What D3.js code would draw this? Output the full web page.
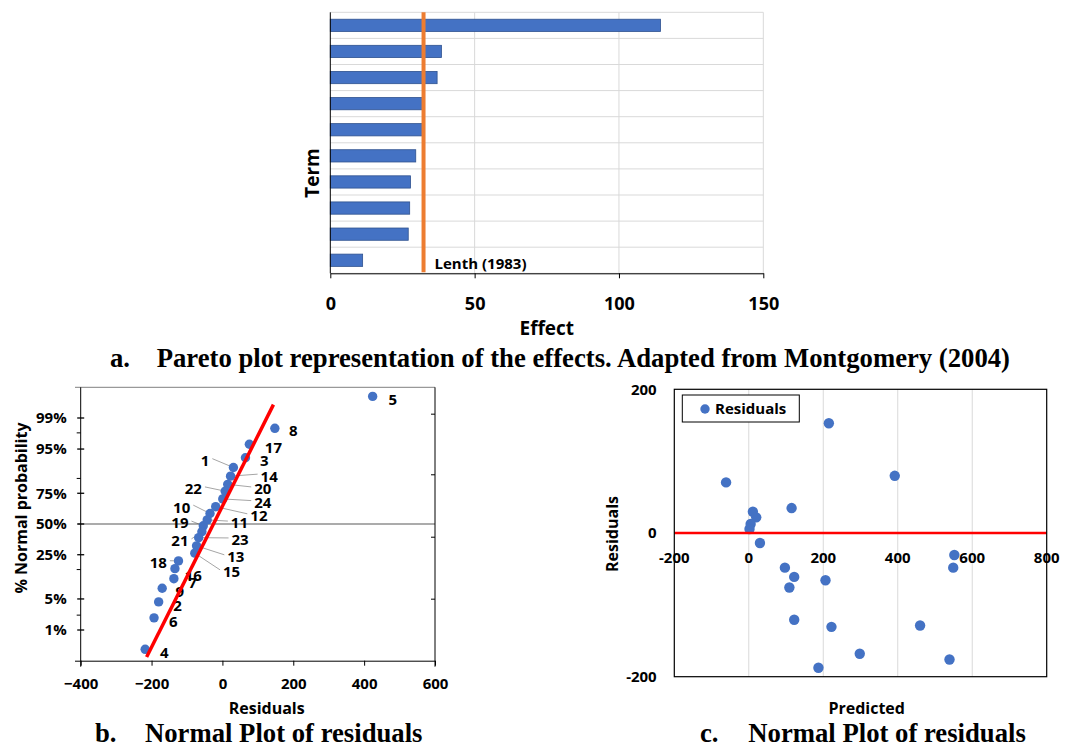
<!DOCTYPE html>
<html><head><meta charset="utf-8">
<script src="https://cdn.jsdelivr.net/npm/d3@7"></script>
<style>
body{margin:0;background:#fff}
svg{display:block}
text{font-family:"Open Sans",sans-serif;font-weight:bold;fill:#000}
.cap{font-family:"Liberation Serif","Times New Roman",serif;font-weight:bold}
</style>
</head><body>
<svg id="chart" width="1066" height="747"></svg>
<script>
// ---------------- Panel a: Pareto of effects ----------------
const terms = ["T1","T2","T3","T4","T5","T6","T7","T8","T9","T10"];
const effects = [114.4, 38.5, 37.0, 32.0, 32.1, 29.6, 27.8, 27.5, 27.0, 11.2];
const effectTicks = [0, 50, 100, 150];
const lenthValue = 32.3;
const lenthLabel = "Lenth (1983)";

// ---------------- Panel b: normal plot of residuals ----------------
const pointIds     = [5, 8, 17, 3, 1, 14, 20, 22, 24, 12, 10, 11, 19, 21, 23, 13, 15, 18, 16, 7, 9, 2, 6, 4];
const residualsB   = [424, 148, 76, 65, 31, 23, 15, 8, 1, -19, -35, -43, -54, -58, -67, -73, -78, -124, -134, -137, -170, -180, -193, -218];
const normalScores = [2.80, 2.10, 1.75, 1.455, 1.24, 1.05, 0.87, 0.72, 0.55, 0.38, 0.23, 0.09, -0.04, -0.17, -0.30, -0.48, -0.64, -0.81, -0.98, -1.20, -1.41, -1.71, -2.06, -2.75];
const labelResidual = [481, 200, 144, 118, -49, 132, 114, -82, 114, 103, -115, 48, -120, -120, 50, 38, 26, -181, -82, -84, -120, -127, -139, -164];
const labelScore    = [2.72, 2.05, 1.67, 1.39, 1.39, 1.05, 0.77, 0.77, 0.47, 0.18, 0.37, 0.02, 0.02, -0.37, -0.35, -0.72, -1.05, -0.85, -1.14, -1.29, -1.49, -1.78, -2.14, -2.82];
const hasLeader     = [0,0,0,0,1,1,1,1,1,1,1,1,1,1,1,1,1,1,0,0,0,0,0,0];
const percentTicks = [1, 5, 25, 50, 75, 95, 99];
const minorScoreTicks = [-2, -1, 1, 2];
const rightScoreTicks = [2.41, 1.08, -0.29, -1.65];
const residualTicks = [-400, -200, 0, 200, 400, 600];
const fitResidual = [-214, 144];
const fitScore = [-2.92, 2.62];

// ---------------- Panel c: residuals vs predicted ----------------
const predicted  = [215, 392, -61, 115, 11, 20, 5, 2, 30, 552, 549, 97, 122, 206, 109, 122, 222, 460, 298, 539, 187];
const residualsC = [152.8, 79.6, 70.4, 34.7, 29.6, 21.8, 12.5, 5.6, -13.9, -30.6, -48.2, -48.2, -61.1, -65.7, -75.9, -120.8, -130.6, -128.7, -168, -176, -187.5];
const predictedTicks = [-200, 0, 200, 400, 600, 800];
const residualTicksC = [-200, 0, 200];

const captions = [
  ["a.", "Pareto plot representation of the effects. Adapted from Montgomery (2004)"],
  ["b.", "Normal Plot of residuals"],
  ["c.", "Normal Plot of residuals"]
];

const BLUE = "#4472C4", BLUE_EDGE = "#2F528F", ORANGE = "#ED7D31", RED = "#FF0000", GRID = "#D9D9D9";

function probit(p){
  const a=[-3.969683028665376e+01,2.209460984245205e+02,-2.759285104469687e+02,1.383577518672690e+02,-3.066479806614716e+01,2.506628277459239e+00];
  const b=[-5.447609879822406e+01,1.615858368580409e+02,-1.556989798598866e+02,6.680131188771972e+01,-1.328068155288572e+01];
  const c=[-7.784894002430293e-03,-3.223964580411365e-01,-2.400758277161838e+00,-2.549732539343734e+00,4.374664141464968e+00,2.938163982698783e+00];
  const d=[7.784695709041462e-03,3.224671290700398e-01,2.445134137142996e+00,3.754408661907416e+00];
  const pl=0.02425, ph=1-pl; let q,r;
  if(p<pl){q=Math.sqrt(-2*Math.log(p));return (((((c[0]*q+c[1])*q+c[2])*q+c[3])*q+c[4])*q+c[5])/((((d[0]*q+d[1])*q+d[2])*q+d[3])*q+1);}
  if(p<=ph){q=p-0.5;r=q*q;return (((((a[0]*r+a[1])*r+a[2])*r+a[3])*r+a[4])*r+a[5])*q/(((((b[0]*r+b[1])*r+b[2])*r+b[3])*r+b[4])*r+1);}
  q=Math.sqrt(-2*Math.log(1-p));return -(((((c[0]*q+c[1])*q+c[2])*q+c[3])*q+c[4])*q+c[5])/((((d[0]*q+d[1])*q+d[2])*q+d[3])*q+1);
}

const svg = d3.select("#chart");

// ================= Panel a =================
(function(){
  const L=330.3, R=763.3, T=12.3, B=273.3;
  const x = d3.scaleLinear().domain([0,150]).range([L,R]);
  const y = d3.scaleBand().domain(terms).range([T,B]).paddingInner(0.53).paddingOuter(0.265);
  const g = svg.append("g");
  const gap = (y.step() - y.bandwidth())/2;
  const bounds = terms.map(t => y(t) - gap).concat([y(terms[terms.length-1]) + y.bandwidth() + gap]);
  g.selectAll(".hg").data(bounds).join("line")
    .attr("x1",L).attr("x2",R).attr("y1",d=>d).attr("y2",d=>d)
    .attr("stroke",GRID).attr("stroke-width",1);
  g.selectAll(".vg").data(effectTicks.filter(v=>v>0)).join("line")
    .attr("x1",d=>x(d)).attr("x2",d=>x(d)).attr("y1",T).attr("y2",B)
    .attr("stroke",GRID).attr("stroke-width",1);
  g.selectAll(".bar").data(terms).join("rect")
    .attr("x",x(0)).attr("y",d=>y(d))
    .attr("width",(d,i)=>x(effects[i])-x(0)).attr("height",y.bandwidth())
    .attr("fill",BLUE).attr("stroke",BLUE_EDGE).attr("stroke-width",0.8);
  g.append("line").attr("x1",x(lenthValue)).attr("x2",x(lenthValue)).attr("y1",T).attr("y2",B-1)
    .attr("stroke",ORANGE).attr("stroke-width",4);
  g.append("text").attr("x",x(lenthValue)+11).attr("y",268.5).attr("font-size",15).text(lenthLabel);
  const ax = g.append("g").attr("transform",`translate(0,${B})`)
    .call(d3.axisBottom(x).tickValues(effectTicks).tickSize(5).tickSizeOuter(0).tickPadding(19));
  ax.select(".domain").attr("stroke","#000");
  ax.selectAll("line").attr("stroke","#000");
  ax.selectAll("text").attr("font-size",18).attr("font-family","Open Sans").attr("font-weight","bold");
  g.append("line").attr("x1",L).attr("x2",L).attr("y1",T).attr("y2",B).attr("stroke","#000");
  g.append("text").attr("x",(L+R)/2).attr("y",334.8).attr("text-anchor","middle").attr("font-size",19).text("Effect");
  g.append("text").attr("transform","translate(318.5,173) rotate(-90)").attr("text-anchor","middle").attr("font-size",19).text("Term");
})();

// ================= Panel b =================
(function(){
  const L=80.7, R=435, T=387.3, B=660.7;
  const x = d3.scaleLinear().domain([-400,600]).range([L,R]);
  const y = d3.scaleLinear().domain([-3,3]).range([B,T]);
  const g = svg.append("g");
  g.append("line").attr("x1",75).attr("x2",R).attr("y1",y(3)).attr("y2",y(3)).attr("stroke","#808080");
  g.append("line").attr("x1",77.7).attr("x2",R).attr("y1",y(0)).attr("y2",y(0)).attr("stroke","#595959").attr("stroke-width",1.2);
  g.append("line").attr("x1",R).attr("x2",R).attr("y1",y(3)).attr("y2",B+6).attr("stroke","#000");
  g.selectAll(".rt").data(rightScoreTicks).join("line")
    .attr("x1",R-4).attr("x2",R).attr("y1",d=>y(d)).attr("y2",d=>y(d)).attr("stroke","#000");
  g.append("line").attr("x1",L).attr("x2",L).attr("y1",y(3)).attr("y2",B+6).attr("stroke","#000");
  g.selectAll(".mt").data(percentTicks).join("line")
    .attr("x1",L-3.5).attr("x2",L+3.5).attr("y1",d=>y(probit(d/100))).attr("y2",d=>y(probit(d/100)))
    .attr("stroke","#000").attr("stroke-width",1.3);
  g.selectAll(".nt").data(minorScoreTicks).join("line")
    .attr("x1",L-4).attr("x2",L).attr("y1",d=>y(d)).attr("y2",d=>y(d)).attr("stroke","#000");
  g.selectAll(".pl").data(percentTicks).join("text")
    .attr("x",66.7).attr("y",d=>y(probit(d/100))).attr("dy","0.36em").attr("text-anchor","end")
    .attr("font-size",15).text(d=>d+"%");
  const ax = g.append("g").attr("transform",`translate(0,${B})`)
    .call(d3.axisBottom(x).tickValues(residualTicks).tickSize(5).tickSizeOuter(0).tickPadding(13).tickFormat(d3.format("d")));
  ax.select(".domain").attr("stroke","#000").attr("d",`M${75},0.5H${R}`);
  ax.selectAll("line").attr("stroke","#000");
  ax.selectAll("text").attr("font-size",15).attr("font-family","Open Sans").attr("font-weight","bold");
  g.append("text").attr("x",266.7).attr("y",713.8).attr("text-anchor","middle").attr("font-size",16).text("Residuals");
  g.append("text").attr("transform","translate(26.5,508) rotate(-90)").attr("text-anchor","middle").attr("font-size",16).text("% Normal probability");

  const idx = d3.range(pointIds.length);
  const labels = g.selectAll(".lab").data(idx).join("text")
    .attr("x",i=>x(labelResidual[i])).attr("y",i=>y(labelScore[i])).attr("dy","0.36em")
    .attr("text-anchor","middle").attr("font-size",15).text(i=>pointIds[i]);
  labels.each(function(i){
    if(!hasLeader[i]) return;
    const w = this.getComputedTextLength();
    const lx = x(labelResidual[i]), ly = y(labelScore[i]);
    const px = x(residualsB[i]), py = y(normalScores[i]);
    const sx = lx < px ? lx + w/2 + 3 : lx - w/2 - 3;
    g.insert("line",":first-child").attr("x1",sx).attr("y1",ly-2).attr("x2",px).attr("y2",py)
      .attr("stroke","#A6A6A6").attr("stroke-width",1);
  });
  g.selectAll(".pt").data(idx).join("circle")
    .attr("cx",i=>x(residualsB[i])).attr("cy",i=>y(normalScores[i])).attr("r",4.7).attr("fill",BLUE);
  g.append("line").attr("x1",x(fitResidual[0])).attr("y1",y(fitScore[0]))
    .attr("x2",x(fitResidual[1])).attr("y2",y(fitScore[1]))
    .attr("stroke",RED).attr("stroke-width",3.5);
})();

// ================= Panel c =================
(function(){
  const L=674.3, R=1046.7, T=389.3, B=676.7;
  const x = d3.scaleLinear().domain([-200,800]).range([L,R]);
  const y = d3.scaleLinear().domain([-200,200]).range([B,T]);
  const g = svg.append("g");
  g.selectAll(".vg").data(predictedTicks.slice(1,-1)).join("line")
    .attr("x1",d=>x(d)).attr("x2",d=>x(d)).attr("y1",T).attr("y2",B).attr("stroke",GRID);
  const idx = d3.range(predicted.length);
  g.selectAll(".pt").data(idx).join("circle")
    .attr("cx",i=>x(predicted[i])).attr("cy",i=>y(residualsC[i])).attr("r",5.2).attr("fill",BLUE);
  g.append("line").attr("x1",L).attr("x2",R).attr("y1",y(0)).attr("y2",y(0)).attr("stroke",RED).attr("stroke-width",2.6);
  g.append("rect").attr("x",L).attr("y",T).attr("width",R-L).attr("height",B-T)
    .attr("fill","none").attr("stroke","#000").attr("stroke-width",1.2);
  g.selectAll(".xl").data(predictedTicks).join("text")
    .attr("x",d=>x(d)).attr("y",563).attr("text-anchor","middle").attr("font-size",15).text(d=>d);
  g.selectAll(".yl").data(residualTicksC).join("text")
    .attr("x",656.7).attr("y",d=>y(d)).attr("dy","0.36em").attr("text-anchor","end").attr("font-size",15).text(d=>d);
  g.append("text").attr("x",866.7).attr("y",713.8).attr("text-anchor","middle").attr("font-size",16).text("Predicted");
  g.append("text").attr("transform","translate(617.5,534) rotate(-90)").attr("text-anchor","middle").attr("font-size",16).text("Residuals");
  g.append("rect").attr("x",682.3).attr("y",395).attr("width",117).attr("height",27)
    .attr("fill","#fff").attr("stroke","#000").attr("stroke-width",1);
  g.append("circle").attr("cx",705).attr("cy",409).attr("r",4.7).attr("fill",BLUE);
  g.append("text").attr("x",715).attr("y",409).attr("dy","0.36em").attr("font-size",15).text("Residuals");
})();

// ================= Captions =================
const capPos = [[110,156.7,367.3],[95,145,741.5],[700,748.3,741.5]];
captions.forEach((c,i)=>{
  svg.append("text").attr("class","cap").attr("x",capPos[i][0]).attr("y",capPos[i][2]).attr("font-size",26.7).text(c[0]);
  svg.append("text").attr("class","cap").attr("x",capPos[i][1]).attr("y",capPos[i][2]).attr("font-size",26.7).text(c[1]);
});
</script>
</body></html>
